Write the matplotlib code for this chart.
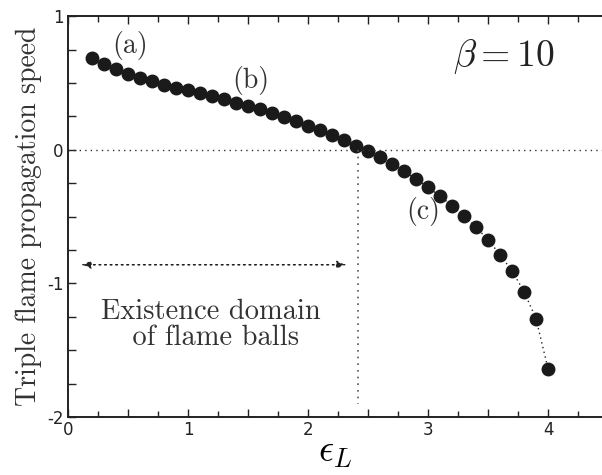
import numpy as np
import matplotlib.pyplot as plt
from matplotlib.ticker import MultipleLocator, FixedLocator

plt.rcParams['mathtext.fontset'] = 'cm'
plt.rcParams['axes.unicode_minus'] = False

# reduced Lewis number / triple flame speed (beta = 10)
eps_L = [0.2, 0.3, 0.4, 0.5, 0.6, 0.7, 0.8, 0.9, 1.0, 1.1, 1.2, 1.3, 1.4,
         1.5, 1.6, 1.7, 1.8, 1.9, 2.0, 2.1, 2.2, 2.3, 2.4, 2.5, 2.6, 2.7,
         2.8, 2.9, 3.0, 3.1, 3.2, 3.3, 3.4, 3.5, 3.6, 3.7, 3.8, 3.9, 4.0]
speed = [0.687, 0.642, 0.604, 0.569, 0.537, 0.512, 0.488, 0.464, 0.447,
         0.424, 0.401, 0.377, 0.352, 0.329, 0.304, 0.274, 0.244, 0.213,
         0.181, 0.147, 0.111, 0.072, 0.031, -0.012, -0.057, -0.107, -0.162,
         -0.220, -0.280, -0.347, -0.417, -0.499, -0.579, -0.674, -0.784,
         -0.906, -1.061, -1.263, -1.638]

eps_cross = 2.42      # zero crossing of the speed
arrow_y = -0.86

fig = plt.figure(figsize=(6.02, 4.75), dpi=100)
ax = fig.add_axes([0.113, 0.122, 0.887, 0.844])

ax.plot(eps_L, speed, ls=(0, (1, 2.5)), lw=1.0, color='#222222',
        marker='o', ms=9, mfc='#1a1a1a', mec='#1a1a1a')

ax.axhline(0, ls=(0, (1, 3)), lw=1.0, color='#333333')
ax.plot([eps_cross, eps_cross], [0, -1.9], ls=(0, (1, 3)), lw=1.2,
        color='#555555')
ax.annotate('', xy=(0.1, arrow_y), xytext=(2.33, arrow_y),
            arrowprops=dict(arrowstyle='-|>', ls=(0, (1, 3)), lw=1.0,
                            color='#222222', mutation_scale=12))
ax.annotate('', xy=(2.33, arrow_y), xytext=(0.1, arrow_y),
            arrowprops=dict(arrowstyle='-|>', ls=(0, (1, 3)), lw=1.0,
                            color='#222222', mutation_scale=12))

serif = 'cmr10'
ax.text(1.19, -1.31, 'Existence domain\n of flame balls', family=serif,
        fontsize=20.5, ha='center', va='center', color='#333333',
        linespacing=0.95)
ax.text(0.52, 0.78, '(a)', family=serif, fontsize=20, ha='center',
        va='center', color='#333333')
ax.text(1.52, 0.52, '(b)', family=serif, fontsize=20, ha='center',
        va='center', color='#333333')
ax.text(2.96, -0.46, '(c)', family=serif, fontsize=20, ha='center',
        va='center', color='#333333')
ax.text(3.63, 0.70, r'$\beta = 10$', fontsize=27, ha='center',
        va='center', color='#222222')

ax.set_xlim(0, 4.45)
ax.set_ylim(-2, 1)
ax.xaxis.set_major_locator(MultipleLocator(0.5))
ax.xaxis.set_minor_locator(MultipleLocator(0.25))
ax.xaxis.set_major_formatter(plt.FuncFormatter(
    lambda v, p: f'{int(v)}' if abs(v - round(v)) < 1e-6 else ''))
ax.yaxis.set_major_locator(FixedLocator([-2, -1, 0, 1]))
ax.yaxis.set_minor_locator(MultipleLocator(0.25))
ax.tick_params(which='both', direction='in', top=True, right=False,
               labelsize=12, width=1.0, colors='#222222', pad=3)
ax.tick_params(which='major', length=6)
ax.tick_params(which='minor', length=4)
ax.tick_params(axis='y', which='minor', length=6)
ax.spines['right'].set_visible(False)
for s in ['left', 'bottom', 'top']:
    ax.spines[s].set_linewidth(1.4)
    ax.spines[s].set_color('#222222')

ax.set_ylabel('Triple flame propagation speed', family=serif, fontsize=20,
              color='#333333', labelpad=4)
ax.set_xlabel(r'$\epsilon_L$', fontsize=27, labelpad=-4)

fig.savefig('out.png', dpi=100)
